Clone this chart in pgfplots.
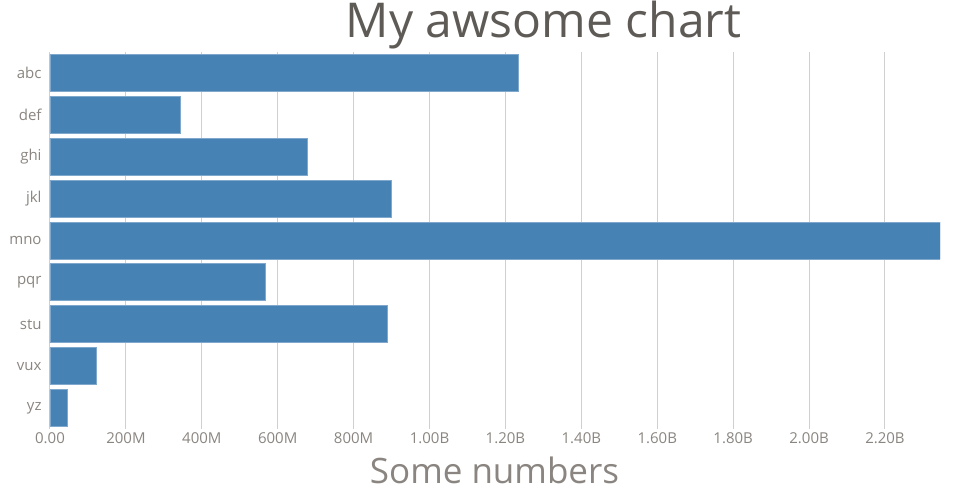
\documentclass[border=0pt]{standalone}
\usepackage{fontspec}
\setmainfont{Open Sans}
\usepackage{pgfplots}
\pgfplotsset{compat=1.18}
\definecolor{barblue}{HTML}{4682B4}
\definecolor{baredge}{HTML}{7FA8CC}
\definecolor{ticktext}{HTML}{8A8580}
\definecolor{titletext}{HTML}{5E5A56}
\definecolor{gridc}{HTML}{D0D0D0}
\begin{document}
\begin{tikzpicture}[x=1pt,y=1pt]
\useasboundingbox (0,0) rectangle (960,500);
\begin{axis}[
  at={(50pt,71pt)}, anchor=south west,
  scale only axis, width=890pt, height=377pt,
  xmin=0, xmax=2345, ymin=-0.5, ymax=8.5, y dir=reverse,
  xbar, bar width=37pt, bar shift=0pt,
  axis lines*=left, axis line style={draw=none},
  tick style={draw=none},
  xtick={0,200,400,600,800,1000,1200,1400,1600,1800,2000,2200},
  xticklabels={0.00,200M,400M,600M,800M,1.00B,1.20B,1.40B,1.60B,1.80B,2.00B,2.20B},
  ytick={0,1,2,3,4,5,6,7,8},
  yticklabels={abc,def,ghi,jkl,mno,pqr,stu,vux,yz},
  xmajorgrids, major grid style={draw=gridc, line width=1pt},
  tick label style={font=\fontsize{15}{18}\selectfont, text=ticktext, inner sep=0pt},
  xticklabel style={anchor=center, yshift=-9.5pt},
  yticklabel style={anchor=east, xshift=-4pt},
]
\addplot[fill=barblue, draw=baredge, line width=0.8pt] coordinates {
 (1234,0) (344,1) (678,2) (900,3) (2345,4) (566.5,5) (889,6) (123,7) (45,8)
};
\end{axis}
\node[anchor=base, text=titletext, inner sep=0pt, font=\fontsize{48}{56}\selectfont] at (543.5,462) {My awsome chart};
\node[anchor=base, text=ticktext, inner sep=0pt, font=\fontsize{35}{42}\selectfont] at (494.5,16.7) {Some numbers};
\end{tikzpicture}
\end{document}
